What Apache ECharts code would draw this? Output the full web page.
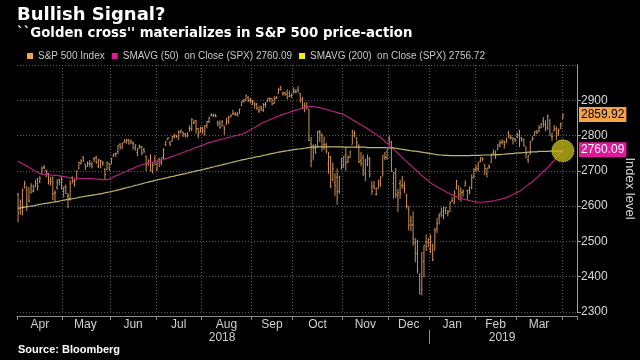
<!DOCTYPE html>
<html><head><meta charset="utf-8">
<script src="https://cdn.jsdelivr.net/npm/echarts@6/dist/echarts.min.js"></script>
<style>html,body{margin:0;padding:0;background:#000;}#c{width:640px;height:360px;}</style>
</head><body><div id="c"></div>
<script>
// ---------- DATA ----------
const months = ['2018-04','2018-05','2018-06','2018-07','2018-08','2018-09','2018-10','2018-11','2018-12','2019-01','2019-02','2019-03','2019-04'];
const monthLabels = ['Apr','May','Jun','Jul','Aug','Sep','Oct','Nov','Dec','Jan','Feb','Mar',''];
const yearLabels = ['2018','2019'];
const monthDays = [
 [2,3,4,5,6,9,10,11,12,13,16,17,18,19,20,23,24,25,26,27,30],
 [1,2,3,4,7,8,9,10,11,14,15,16,17,18,21,22,23,24,25,29,30,31],
 [1,4,5,6,7,8,11,12,13,14,15,18,19,20,21,22,25,26,27,28,29],
 [2,3,5,6,9,10,11,12,13,16,17,18,19,20,23,24,25,26,27,30,31],
 [1,2,3,6,7,8,9,10,13,14,15,16,17,20,21,22,23,24,27,28,29,30,31],
 [4,5,6,7,10,11,12,13,14,17,18,19,20,21,24,25,26,27,28],
 [1,2,3,4,5,8,9,10,11,12,15,16,17,18,19,22,23,24,25,26,29,30,31],
 [1,2,5,6,7,8,9,12,13,14,15,16,19,20,21,23,26,27,28,29,30],
 [3,4,6,7,10,11,12,13,14,17,18,19,20,21,24,26,27,28,31],
 [2,3,4,7,8,9,10,11,14,15,16,17,18,22,23,24,25,28,29,30,31],
 [1,4,5,6,7,8,11,12,13,14,15,19,20,21,22,25,26,27,28],
 [1,4,5,6,7,8,11,12,13,14,15,18,19,20,21,22,25,26,27,28,29],
 [1,2,3,4,5,8,9]
];
const open = [
 2633,2592,2584,2657,2646,2617,2638,2643,2654,2677,2670,2693,2710,2701,2693,2675,2681,2635,2652,2675,2683,
 2642,2654,2628,2622,2681,2670,2678,2705,2722,2738,2719,2712,2719,2718,2735,2738,2713,2730,2724,2705,2703,2721,
 2719,2742,2749,2754,2775,2765,2780,2785,2787,2783,2777,2766,2752,2769,2769,2760,2742,2722,2729,2698,2728,
 2705,2733,2724,2738,2775,2789,2779,2783,2797,2799,2789,2811,2810,2804,2799,2821,2818,2835,2843,2820,2809,
 2822,2803,2829,2840,2856,2856,2857,2838,2836,2827,2827,2831,2838,2853,2861,2860,2860,2862,2885,2901,2901,2908,2899,
 2897,2892,2889,2869,2882,2872,2888,2896,2906,2904,2891,2906,2919,2936,2921,2922,2917,2911,2910,
 2926,2924,2931,2919,2903,2878,2882,2874,2776,2771,2763,2767,2811,2803,2775,2774,2721,2737,2675,2667,2682,2641,2705,
 2717,2746,2727,2738,2775,2807,2794,2773,2730,2737,2693,2718,2731,2654,2657,2633,2650,2663,2692,2737,2738,
 2791,2782,2664,2692,2630,2664,2659,2658,2629,2590,2559,2548,2497,2465,2401,2363,2443,2499,2498,
 2477,2492,2475,2536,2568,2580,2574,2588,2580,2585,2614,2609,2651,2657,2643,2638,2657,2644,2645,2653,2685,
 2703,2706,2728,2735,2717,2693,2713,2723,2750,2743,2760,2770,2780,2782,2780,2805,2792,2788,2789,
 2798,2814,2795,2790,2768,2731,2747,2787,2800,2811,2811,2822,2841,2831,2819,2844,2797,2813,2819,2810,2829,
 2848
];
const high = [
 2638,2619,2650,2672,2657,2654,2665,2661,2675,2680,2686,2713,2717,2703,2694,2683,2684,2645,2676,2677,2683,
 2655,2661,2637,2673,2684,2676,2701,2726,2733,2742,2719,2727,2731,2726,2739,2743,2733,2731,2728,2707,2726,2722,
 2737,2749,2752,2772,2779,2779,2790,2791,2790,2789,2783,2775,2764,2775,2770,2765,2743,2733,2747,2725,2744,
 2727,2737,2737,2764,2784,2795,2785,2799,2805,2802,2815,2816,2811,2808,2809,2829,2849,2845,2844,2821,2825,
 2825,2830,2841,2853,2864,2862,2862,2842,2843,2844,2827,2850,2856,2860,2873,2867,2868,2876,2898,2904,2916,2912,2907,
 2901,2894,2893,2883,2884,2892,2895,2906,2908,2905,2912,2912,2935,2941,2923,2924,2931,2927,2920,
 2937,2932,2940,2920,2910,2894,2895,2874,2796,2775,2776,2813,2816,2806,2797,2779,2754,2742,2723,2693,2707,2686,2737,
 2741,2767,2744,2757,2815,2814,2795,2775,2754,2746,2735,2747,2739,2671,2671,2653,2675,2685,2744,2754,2760,
 2800,2785,2697,2708,2648,2675,2685,2670,2635,2601,2573,2585,2509,2505,2410,2468,2489,2520,2509,
 2520,2493,2538,2566,2580,2596,2598,2596,2589,2613,2625,2645,2675,2658,2653,2647,2673,2645,2656,2690,2708,
 2717,2725,2738,2738,2719,2708,2718,2749,2761,2758,2776,2787,2789,2786,2793,2814,2803,2796,2793,
 2809,2816,2795,2790,2768,2744,2785,2798,2813,2816,2830,2836,2852,2843,2860,2846,2809,2830,2826,2820,2837,
 2861
];
const low = [
 2554,2575,2574,2650,2586,2611,2636,2639,2654,2645,2665,2692,2704,2682,2661,2658,2617,2613,2647,2659,2648,
 2625,2635,2594,2615,2664,2655,2675,2705,2718,2725,2702,2712,2711,2707,2725,2720,2708,2707,2714,2676,2703,2700,
 2719,2740,2739,2748,2760,2763,2780,2777,2775,2776,2760,2757,2741,2763,2744,2750,2699,2715,2699,2692,2718,
 2699,2712,2716,2733,2770,2787,2770,2783,2792,2793,2789,2805,2796,2795,2795,2811,2812,2833,2805,2792,2808,
 2805,2800,2821,2835,2855,2853,2852,2826,2820,2827,2802,2831,2833,2851,2859,2856,2854,2862,2884,2893,2898,2895,2891,
 2886,2876,2872,2864,2869,2867,2879,2896,2895,2886,2890,2903,2919,2928,2913,2913,2903,2910,2907,
 2918,2920,2922,2893,2875,2866,2874,2784,2710,2730,2749,2767,2782,2755,2760,2749,2692,2651,2670,2628,2604,2635,2705,
 2709,2700,2722,2738,2775,2795,2765,2722,2714,2685,2671,2713,2681,2632,2648,2631,2650,2655,2684,2730,2731,
 2774,2697,2621,2623,2583,2621,2650,2637,2593,2531,2529,2488,2441,2409,2351,2347,2398,2473,2483,
 2467,2444,2475,2524,2548,2569,2563,2577,2571,2585,2612,2606,2647,2617,2613,2627,2657,2618,2633,2648,2678,
 2697,2698,2724,2727,2688,2681,2705,2723,2748,2733,2760,2767,2775,2763,2780,2794,2789,2775,2782,
 2792,2767,2782,2770,2735,2722,2747,2786,2799,2804,2810,2821,2823,2812,2817,2800,2785,2813,2787,2799,2818,
 2847
];
const close = [
 2582,2614,2645,2663,2604,2613,2657,2642,2664,2656,2678,2706,2709,2693,2670,2670,2635,2639,2667,2670,2648,
 2655,2636,2630,2663,2673,2672,2698,2723,2728,2730,2711,2722,2720,2713,2733,2724,2733,2728,2721,2690,2724,2705,
 2735,2747,2749,2772,2770,2779,2782,2787,2776,2782,2780,2774,2763,2767,2750,2755,2717,2723,2700,2716,2718,
 2727,2713,2737,2760,2784,2794,2774,2798,2801,2798,2810,2816,2804,2802,2807,2820,2846,2837,2819,2803,2816,
 2813,2827,2840,2850,2858,2858,2854,2833,2822,2840,2818,2841,2850,2857,2863,2862,2857,2875,2897,2898,2914,2901,2902,
 2897,2889,2878,2872,2877,2888,2889,2904,2905,2889,2904,2908,2931,2930,2919,2916,2906,2914,2914,
 2925,2923,2926,2902,2886,2884,2880,2786,2728,2767,2751,2810,2809,2769,2768,2756,2741,2656,2706,2659,2641,2683,2712,
 2740,2723,2738,2755,2814,2807,2781,2726,2722,2702,2730,2736,2691,2642,2650,2633,2673,2682,2744,2738,2760,
 2790,2700,2696,2633,2638,2637,2651,2651,2600,2546,2546,2507,2467,2417,2351,2468,2489,2486,2507,
 2510,2448,2532,2550,2574,2585,2597,2596,2583,2610,2616,2636,2671,2633,2639,2642,2665,2644,2640,2681,2704,
 2707,2725,2738,2732,2706,2708,2710,2745,2753,2746,2776,2780,2785,2775,2793,2796,2794,2792,2784,
 2804,2793,2790,2771,2749,2743,2783,2792,2811,2808,2822,2833,2833,2824,2855,2801,2798,2818,2805,2815,2834,
 2859.92
];
const sma50 = [
 2727,2724,2720,2717,2713,2710,2706,2703,2699,2696,2692,
 2691,2690,2690,2689,2688,2688,2687,2687,2686,
 2685,2684,2683,2681,2680,2679,
 2679,2679,2679,2678,2678,2678,2678,2678,2678,2677,
 2677,2676,2676,2675,2675,2675,
 2677,2680,2683,
 2686,2688,2691,2694,2696,2699,
 2702,2705,2707,2710,2713,2715,2718,
 2719,2721,2722,2724,2725,2727,2728,2729,2731,2732,
 2734,2736,2739,2741,2743,2745,2748,2750,2752,
 2754,2757,2759,2761,2764,2766,2768,2771,2773,2775,2778,2780,
 2782,2783,2785,2787,2788,2790,2791,2793,2795,2796,2798,2800,2801,2803,2804,2806,
 2809,2813,2816,2820,2823,2827,2830,2834,2837,
 2840,2842,2845,2847,2850,2853,2855,2858,2860,
 2862,2864,2866,2868,2870,2872,2874,2876,2878,
 2880,2882,2883,2883,2882,
 2881,2880,2879,
 2877,2876,2874,2872,2870,2869,2867,2865,2863,2862,2860,
 2856,2852,2849,2845,2841,2838,2834,2830,2827,
 2823,2819,2815,2811,2807,2803,2799,2795,
 2789,2784,2778,2773,2767,2762,2756,
 2750,2744,2738,2732,2726,2720,2715,2709,
 2704,2698,2693,2687,2682,2677,2671,2666,
 2662,2659,2655,2652,2648,2645,2641,2638,
 2635,2632,2629,2627,2624,
 2622,2620,2619,2617,2616,2614,2613,2612,
 2611,2611,2611,2612,2612,2613,2614,2615,
 2616,2618,2619,2621,2622,2624,
 2627,2630,2633,2636,2639,2642,
 2646,2651,2656,2661,2665,2670,
 2675,2681,2686,2692,2698,2703,2709,
 2716,2723,2730,2738,2745,2753,2760.09
];
const sma200 = [
 2594,2595,2596,2597,2598,2599,2600,2601,2602,2604,2605,2606,2607,2608,2609,2610,2611,2612,2613,2614,2616,2617,2618,2619,2620,
 2621,2622,2623,2625,2626,2627,2628,2629,2630,2631,2632,2633,2634,2635,2636,2638,2639,2640,2641,
 2643,2644,2646,2647,2649,2651,2652,2654,2655,2657,2659,2660,2662,2663,2665,2667,2668,2670,
 2671,2673,2674,2676,2677,2678,2680,2681,2683,2684,2685,2687,2688,2690,2691,2692,2694,2695,2697,2698,2700,2701,
 2702,2704,2705,2707,2708,2710,2711,2713,2714,2716,2717,2719,2720,2722,2723,2725,2726,2728,2729,2731,2732,
 2733,2735,2736,2737,2739,2740,2741,2742,2744,2745,2746,2748,2749,2750,2752,2753,
 2754,2755,2756,2757,2758,2759,2760,2761,2762,2762,2763,2764,2765,2766,2767,
 2767,2768,2768,2768,2768,2768,2768,2768,2768,2768,2768,2768,2768,2768,2767,2767,2767,2767,
 2767,2767,2767,2767,2767,2767,2767,2766,2766,2766,2766,2766,2766,2766,2766,2766,2765,2765,2765,2765,
 2764,2763,2762,2761,2760,2759,2758,2757,2756,2756,2755,2754,2753,2752,2751,
 2750,2749,2748,2747,2746,2745,2745,2744,
 2744,2744,2743,2743,2743,2743,2743,2743,2743,2743,2743,2743,2744,2744,2744,2744,2744,2745,2745,2745,2745,2745,2746,2746,2746,2746,
 2747,2747,2748,2748,2749,2749,2750,2750,2751,2751,2752,2752,2753,2753,2754,
 2754,2754,2755,2755,2755,2755,2755,2756,2756,2756,2756,2756,2756,2756.72
];

// ---------- BUILD ----------
const n = close.length;
const categories = [];
const monthStart = {};
const monthLabelAt = {};
let idx = 0;
months.forEach((m, k) => {
  const days = monthDays[k];
  monthStart[idx] = true;
  monthLabelAt[idx + Math.floor((days.length - 1) / 2)] = monthLabels[k];
  days.forEach(d => categories.push(m + '-' + String(d).padStart(2, '0')));
  idx += days.length;
});
const yearLabelAt = {};
const yearStartIdx = [];
yearLabels.forEach(y => {
  let first = -1, last = -1;
  categories.forEach((c, i) => { if (c.startsWith(y)) { if (first < 0) first = i; last = i; } });
  yearLabelAt[Math.floor((first + last) / 2)] = y;
  if (first > 0) yearStartIdx.push(first);
});
const ohlc = close.map((c, i) => [i, open[i], c, low[i], high[i]]);
const lastClose = close[n - 1], last50 = sma50[n - 1], last200 = sma200[n - 1];

const NARROW = "'Liberation Sans Narrow','Arial Narrow','Liberation Sans',sans-serif";
const BOLD = "'DejaVu Sans',sans-serif";
const name1 = 'S&P 500 Index';
const name2 = 'SMAVG (50)  on Close (SPX) ' + last50.toFixed(2);
const name3 = 'SMAVG (200)  on Close (SPX) ' + last200.toFixed(2);
const BAR = '#e3a162';
const TRANSP = 'rgba(0,0,0,0)';

const chart = echarts.init(document.getElementById('c'), null, {renderer: 'canvas'});
chart.setOption({
  backgroundColor: '#000',
  animation: false,
  title: [
    {text: 'Bullish Signal?', left: 17, top: 6, padding: 0,
     textStyle: {color: '#fff', fontSize: 18, fontWeight: 'bold', fontFamily: BOLD}},
    {text: "``Golden cross'' materializes in S&P 500 price-action", left: 17, top: 27, padding: 0,
     textStyle: {color: '#fff', fontSize: 13.3, fontWeight: 'bold', fontFamily: BOLD}},
    {text: 'Source: Bloomberg', left: 18, top: 344, padding: 0,
     textStyle: {color: '#fff', fontSize: 11, fontWeight: 'bold', fontFamily: "'Liberation Sans',sans-serif"}}
  ],
  legend: {
    left: 27, top: 51, padding: 0, itemWidth: 6, itemHeight: 6, itemGap: 7,
    selectedMode: false,
    textStyle: {color: '#c8c8c8', fontSize: 10, fontFamily: NARROW},
    data: [
      {name: name1, icon: 'rect', itemStyle: {color: '#f5a347', borderWidth: 0}},
      {name: name2, icon: 'rect', itemStyle: {color: '#e0189a', borderWidth: 0}},
      {name: name3, icon: 'rect', itemStyle: {color: '#f2ee1a', borderWidth: 0}}
    ]
  },
  grid: {left: 17, right: 63, top: 65, bottom: 48, outerBoundsMode: 'none', containLabel: false},
  xAxis: [
    {
      type: 'category', data: categories, boundaryGap: true, offset: 4,
      axisLine: {show: true, lineStyle: {color: '#8a8a8a', width: 1}},
      axisTick: {show: true, length: 4, interval: (i) => !!monthStart[i], lineStyle: {color: '#8a8a8a'}},
      axisLabel: {interval: (i) => monthLabelAt[i] !== undefined && monthLabelAt[i] !== '',
        formatter: (v, i) => monthLabelAt[i] || '', color: '#d0d0d0', fontSize: 12, fontFamily: NARROW, margin: 3},
      splitLine: {show: true, interval: (i) => i > 0 && !!monthStart[i],
        lineStyle: {color: '#5a5a5a', type: [1, 2], width: 1}}
    },
    {
      type: 'category', data: categories, boundaryGap: true, position: 'bottom', offset: 17,
      axisLine: {show: false},
      axisTick: {show: false},
      axisLabel: {interval: (i) => yearLabelAt[i] !== undefined,
        formatter: (v, i) => yearLabelAt[i] || '', color: '#d0d0d0', fontSize: 12, fontFamily: NARROW, margin: 3},
      splitLine: {show: false}
    }
  ],
  yAxis: {
    type: 'value', position: 'right', min: 2300, max: 3000, interval: 100,
    name: 'Index level', nameLocation: 'middle', nameRotate: -90, nameGap: 46,
    nameTextStyle: {color: '#d8d8d8', fontSize: 13, fontFamily: NARROW},
    axisLine: {show: true, lineStyle: {color: '#a0a0a0'}},
    axisTick: {show: true, length: 4, lineStyle: {color: '#a0a0a0'}},
    axisLabel: {color: '#d8d8d8', fontSize: 12, fontFamily: NARROW, margin: 4, showMaxLabel: false,
      formatter: (v) => String(v)},
    splitLine: {show: true, lineStyle: {color: '#5a5a5a', type: [1, 2], width: 1}}
  },
  series: [
    {
      name: name1, type: 'custom', xAxisIndex: 0, data: ohlc, z: 2,
      encode: {x: 0, y: [1, 2, 3, 4]},
      itemStyle: {color: BAR},
      renderItem: (params, api) => {
        const i = api.value(0);
        const o = api.coord([i, api.value(1)]);
        const c = api.coord([i, api.value(2)]);
        const l = api.coord([i, api.value(3)]);
        const h = api.coord([i, api.value(4)]);
        const w = api.size([1, 0])[0] * 0.45;
        const st = {stroke: BAR, lineWidth: 0.9};
        return {type: 'group', children: [
          {type: 'line', shape: {x1: h[0], y1: h[1], x2: l[0], y2: l[1]}, style: st},
          {type: 'line', shape: {x1: o[0] - w, y1: o[1], x2: o[0], y2: o[1]}, style: st},
          {type: 'line', shape: {x1: c[0], y1: c[1], x2: c[0] + w, y2: c[1]}, style: st}
        ]};
      }
    },
    {
      name: name2, type: 'line', data: sma50, showSymbol: false, symbol: 'none', z: 3,
      itemStyle: {color: '#e0189a'},
      lineStyle: {color: '#b3217c', width: 1.2},
      markLine: {
        silent: true, symbol: ['none', 'none'], animation: false, precision: 2,
        lineStyle: {color: TRANSP, width: 0},
        data: [
          {yAxis: lastClose,
           label: {show: true, position: 'end', distance: 2, formatter: lastClose.toFixed(2),
             backgroundColor: '#f5a347', color: '#000', padding: [2, 2, 1, 2], fontSize: 12, fontFamily: NARROW}},
          {yAxis: last50,
           label: {show: true, position: 'end', distance: 2, formatter: last50.toFixed(2),
             backgroundColor: '#e0189a', color: '#fff', padding: [2, 2, 1, 2], fontSize: 12, fontFamily: NARROW}}
        ]
      }
    },
    {
      name: name3, type: 'line', data: sma200, showSymbol: false, symbol: 'none', z: 3,
      itemStyle: {color: '#f2ee1a'},
      lineStyle: {color: '#bdb86a', width: 1.2},
      markPoint: {
        silent: true, animation: false,
        data: [{coord: [categories[n - 1], last200], symbol: 'circle', symbolSize: 22,
          itemStyle: {color: 'rgba(190,180,24,0.8)', borderColor: '#e6dc50', borderType: 'dotted', borderWidth: 1},
          label: {show: false}}]
      }
    }
  ]
});

// year divider below the month labels, placed via the category scale
const x0 = chart.convertToPixel({xAxisIndex: 0}, categories[0]);
const x1 = chart.convertToPixel({xAxisIndex: 0}, categories[1]);
const half = (x1 - x0) / 2;
chart.setOption({
  graphic: yearStartIdx.map(i => {
    const x = Math.round(chart.convertToPixel({xAxisIndex: 0}, categories[i]) - half) + 0.5;
    return {type: 'line', silent: true, shape: {x1: x, y1: 330, x2: x, y2: 344},
      style: {stroke: '#8a8a8a', lineWidth: 1}};
  })
});
</script></body></html>
